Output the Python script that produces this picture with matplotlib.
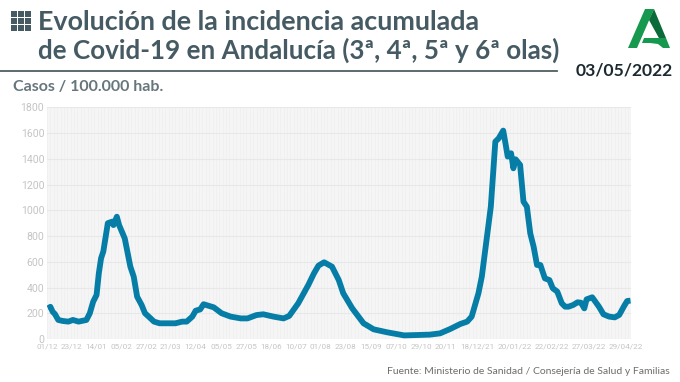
import matplotlib
matplotlib.use('Agg')
import matplotlib.pyplot as plt
from matplotlib.patches import Polygon, Rectangle

# days since 01/12/2020 and incidence
days = [1, 3, 5, 7, 10, 14, 19, 23, 28, 35, 38, 41, 44, 46, 48, 50, 54, 58, 59, 62, 64, 69, 74, 77, 80, 84, 87, 92, 95,
        100, 114, 120, 124, 129, 132, 136, 139, 148, 155, 163, 172, 178, 186, 192, 201, 210, 215, 223, 232, 237, 241,
        246, 253, 259, 263, 271, 281, 290, 302, 317, 329, 340, 349, 358, 367, 373, 377, 383, 386, 394, 398, 401, 405,
        407, 409, 412, 414, 416, 420, 423, 426, 429, 432, 435, 438, 442, 446, 449, 453, 457, 460, 463, 467, 471, 474,
        477, 479, 484, 490, 494, 499, 504, 508, 512, 515, 518]
values = [238, 250, 212, 194, 148, 140, 135, 148, 135, 148, 200, 290, 342, 510, 627, 680, 900, 912, 885, 950, 885, 782,
          562, 484, 329, 264, 200, 160, 135, 122, 122, 135, 135, 174, 220, 230, 270, 246, 200, 174, 160, 160, 186, 192,
          174, 160, 179, 277, 420, 510, 570, 596, 562, 458, 355, 238, 122, 75, 52, 28, 31, 34, 44, 78, 117, 135, 174,
          355, 484, 1028, 1533, 1559, 1619, 1520, 1417, 1443, 1326, 1396, 1352, 1067, 1028, 821, 717, 575, 575, 471,
          458, 394, 368, 277, 251, 251, 264, 285, 282, 238, 308, 324, 251, 192, 174, 168, 187, 251, 295, 298]

tick_days = [0, 22, 44, 66, 88, 110, 132, 155, 177, 199, 221, 243, 265, 288, 310, 332, 354, 382, 415, 448, 481, 514]
tick_labels = ['01/12', '23/12', '14/01', '05/02', '27/02', '21/03', '12/04', '05/05', '27/05', '18/06', '10/07',
               '01/08', '23/08', '15/09', '07/10', '29/10', '20/11', '18/12/21', '20/01/22', '22/02/22', '27/03/22',
               '29/04/22']
y_ticks = [0, 200, 400, 600, 800, 1000, 1200, 1400, 1600, 1800]

W, H = 680, 382
fig = plt.figure(figsize=(W / 100, H / 100), dpi=100)

# chart
ax = fig.add_axes([47 / W, 1 - 339 / H, (630.5 - 47) / W, (339 - 107.3) / H], facecolor='#f5f5f5')
for d in range(0, 518, 3):
    ax.axvline(d, color='#eeeeee', lw=0.5, zorder=1)
ax.grid(axis='y', color='#e8e8e8', lw=0.8, zorder=1)
ax.plot(days, values, color='#067da6', lw=4.2, solid_joinstyle='round', solid_capstyle='butt', zorder=3)
ax.set_xlim(0, 518)
ax.set_ylim(0, 1800)
ax.set_xticks(tick_days, tick_labels)
ax.set_yticks(y_ticks)
ax.tick_params(length=0, labelsize=5.9, labelcolor='#c4c4c4', pad=3.5)
ax.tick_params(axis='y', labelsize=7.6, pad=2)
for lab in ax.get_xticklabels() + ax.get_yticklabels():
    lab.set_family('Roboto')
for s in ax.spines.values():
    s.set_visible(False)

# header drawn in pixel coordinates
bg = fig.add_axes([0, 0, 1, 1], zorder=5)
bg.set_xlim(0, W)
bg.set_ylim(H, 0)
bg.axis('off')
bg.patch.set_alpha(0)

title_c = '#455a62'
bg.text(38, 22, 'Evolución de la incidencia acumulada', fontsize=19.4, color=title_c, family='Lato',
        weight='bold', va='center')
bg.text(38, 50, 'de Covid-19 en Andalucía (3ª, 4ª, 5ª y 6ª olas)', fontsize=18.7, color=title_c, family='Lato',
        weight='bold', va='center')
bg.plot([0, 557], [71, 71], color='#4f5f65', lw=1.3)
bg.text(13, 87, 'Casos / 100.000 hab.', fontsize=11.5, color='#66767c', family='Lato', weight='bold',
        va='center')
bg.text(624, 70.5, '03/05/2022', fontsize=12.6, color='#1c2a30', family='Lato', weight='bold', va='center',
        ha='center')
bg.text(670, 372, 'Fuente: Ministerio de Sanidad / Consejería de Salud y Familias', fontsize=7.5, color='#6d6d6d',
        family='Lato', va='center', ha='right')

# grid icon
for i in range(3):
    for j in range(3):
        bg.add_patch(Rectangle((10.5 + i * 7.2, 10.5 + j * 7.2), 6, 6, color=title_c, lw=0))

# logo
green = '#16994f'
dark = '#0b6a3a'
bg.add_patch(Polygon([(645, 9), (654, 9), (637, 48), (628, 48)], color=green, lw=0))
bg.add_patch(Polygon([(649, 20), (654, 9), (666, 38), (660, 40)], color=dark, lw=0))
bg.add_patch(Polygon([(644, 38), (655, 38), (666, 38), (670, 48), (663, 48), (658, 44), (650, 43), (642, 43)],
                     color=green, lw=0))

fig.savefig('out.png', dpi=100)
